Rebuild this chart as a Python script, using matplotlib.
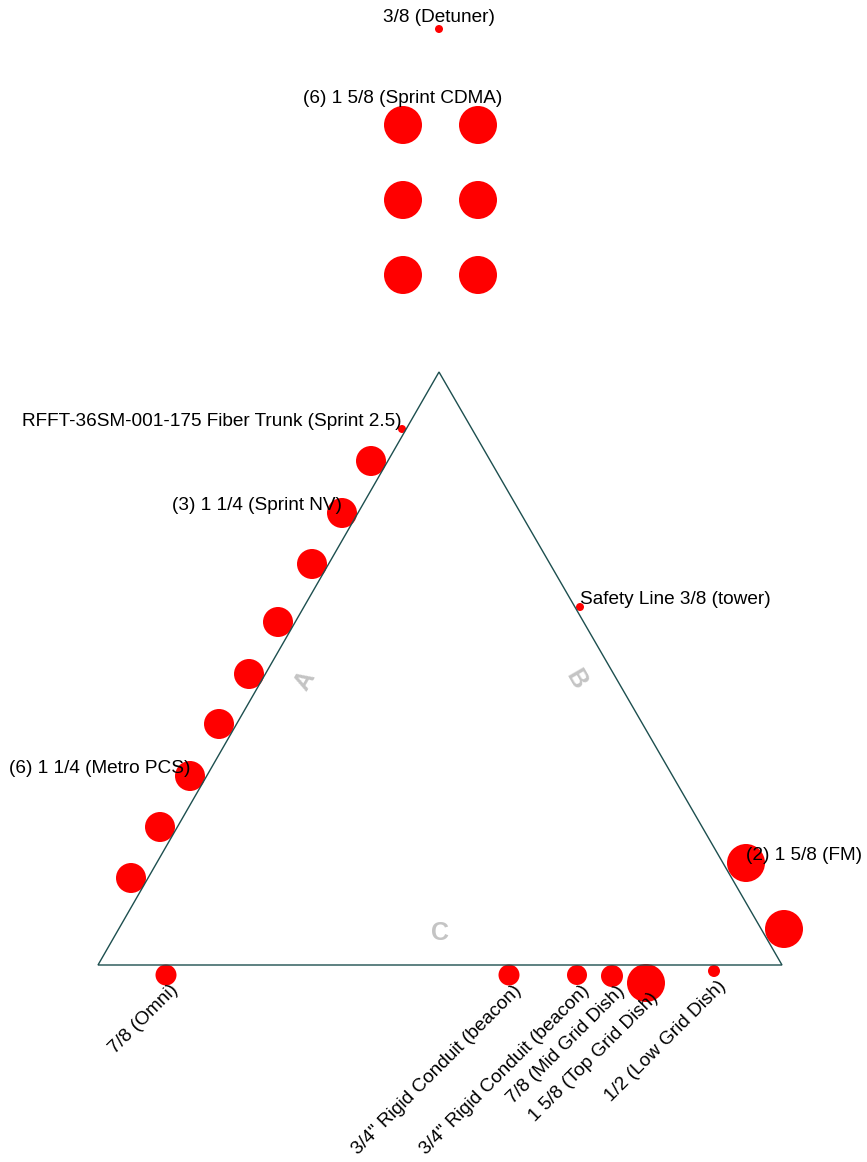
import matplotlib
matplotlib.use('Agg')
import matplotlib.pyplot as plt
from matplotlib.patches import Circle, Polygon
import numpy as np

plt.rcParams['font.family'] = ['Liberation Sans', 'DejaVu Sans']

# Tower outline (equilateral triangle) and face names
tower_x = [98, 782, 439]
tower_y = [965, 965, 372]
face_names = ['A', 'B', 'C']
face_label_x = [305, 576, 440]
face_label_y = [681, 679, 933]
face_label_rot = [60, -60, 0]

# Cables: position and outer diameter
cable_x = [439,
           403, 478, 403, 478, 403, 478,
           402,
           371, 342, 312,
           278, 249, 219, 190, 160, 131,
           580,
           746, 784,
           166, 509, 577, 612, 646, 714]
cable_y = [29,
           125, 125, 200, 200, 275, 275,
           429,
           461, 513, 564,
           622, 674, 724, 776, 827, 878,
           607,
           863, 929,
           975, 975, 975, 976, 983, 971]
cable_d = [8,
           38, 38, 38, 38, 38, 38,
           8,
           30, 30, 30,
           30, 30, 30, 30, 30, 30,
           8,
           38, 38,
           21, 21, 20, 22, 38, 12]

# Labels: text, the cable they are attached to, and the side of the tower
label_text = ['3/8 (Detuner)',
              '(6) 1 5/8 (Sprint CDMA)',
              'RFFT-36SM-001-175 Fiber Trunk (Sprint 2.5)',
              '(3) 1 1/4 (Sprint NV)',
              '(6) 1 1/4 (Metro PCS)',
              'Safety Line 3/8 (tower)',
              '(2) 1 5/8 (FM)',
              '7/8 (Omni)',
              '3/4" Rigid Conduit (beacon)',
              '3/4" Rigid Conduit (beacon)',
              '7/8 (Mid Grid Dish)',
              '1 5/8 (Top Grid Dish)',
              '1/2 (Low Grid Dish)']
label_cable = [0, 1, 7, 9, 14, 17, 18, 20, 21, 22, 23, 24, 25]
label_side = ['top', 'top', 'left', 'left', 'left', 'right', 'right',
              'bottom', 'bottom', 'bottom', 'bottom', 'bottom', 'bottom']

W, H = 867, 1162
fig = plt.figure(figsize=(W / 100, H / 100), dpi=100)
ax = fig.add_axes([0, 0, 1, 1])
ax.set_xlim(0, W)
ax.set_ylim(H, 0)
ax.axis('off')

ax.add_patch(Polygon(np.column_stack([tower_x, tower_y]), closed=True,
                     fill=False, edgecolor='#1d4f4f', lw=1.0, zorder=3))

for x, y, d in zip(cable_x, cable_y, cable_d):
    ax.add_patch(Circle((x, y), d / 2, facecolor='#ff0000', edgecolor='none', zorder=2))

for name, x, y, r in zip(face_names, face_label_x, face_label_y, face_label_rot):
    ax.text(x, y, name, ha='center', va='center', rotation=r, rotation_mode='anchor',
            fontsize=18, fontweight='bold', color='#c4c4c4', zorder=1)

fs = 13.7
for txt, ci, side in zip(label_text, label_cable, label_side):
    cx, cy, d = cable_x[ci], cable_y[ci], cable_d[ci]
    if side == 'top':
        ax.text(cx, cy - d / 2 - 3, txt, ha='center', va='baseline', fontsize=fs, zorder=4)
    elif side == 'left':
        ax.text(cx, cy - 3, txt, ha='right', va='baseline', fontsize=fs, zorder=4)
    elif side == 'right':
        ax.text(cx, cy - 3, txt, ha='left', va='baseline', fontsize=fs, zorder=4)
    else:
        ax.text(cx + 13, cy + 16, txt, ha='right', va='baseline', rotation=45,
                rotation_mode='anchor', fontsize=fs, zorder=4)

fig.savefig('out.png', dpi=100, facecolor='white')
